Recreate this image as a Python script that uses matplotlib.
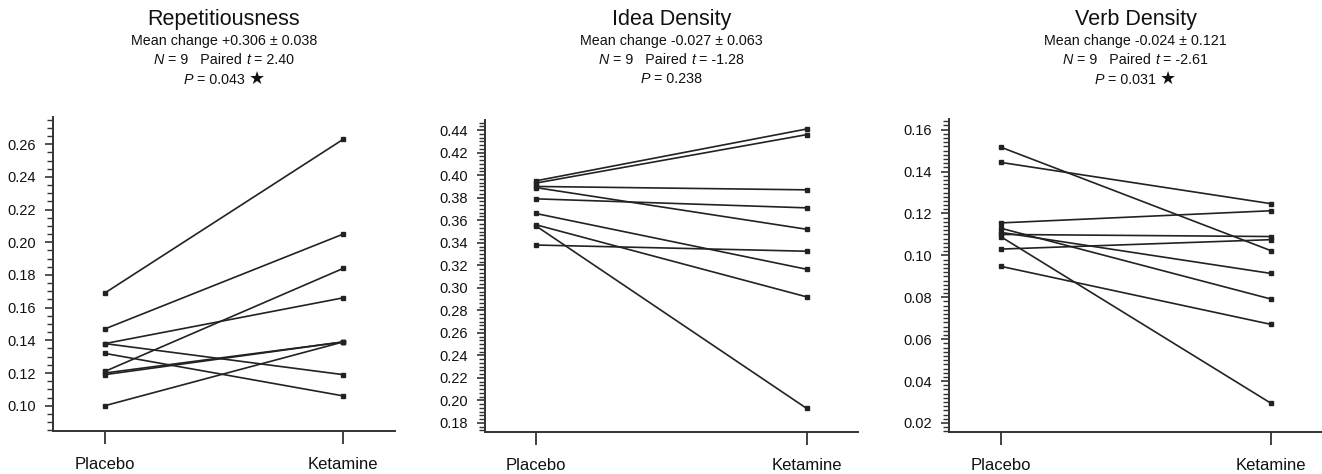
import matplotlib
matplotlib.use("Agg")
import matplotlib.pyplot as plt
from matplotlib.ticker import MultipleLocator
from matplotlib.offsetbox import TextArea, HPacker, AnnotationBbox

# ---- data ----
conditions = ["Placebo", "Ketamine"]

rep_placebo = [0.169, 0.147, 0.138, 0.138, 0.132, 0.121, 0.120, 0.119, 0.100]
rep_ketamine = [0.263, 0.205, 0.166, 0.119, 0.106, 0.184, 0.139, 0.139, 0.139]

idea_placebo = [0.395, 0.393, 0.390, 0.389, 0.379, 0.366, 0.356, 0.355, 0.338]
idea_ketamine = [0.441, 0.436, 0.387, 0.352, 0.371, 0.3165, 0.292, 0.193, 0.3325]

verb_placebo = [0.1517, 0.1444, 0.1155, 0.1030, 0.0948, 0.110, 0.113, 0.111, 0.109]
verb_ketamine = [0.1023, 0.1247, 0.1213, 0.1075, 0.0671, 0.109, 0.0792, 0.0914, 0.0295]

titles = ["Repetitiousness", "Idea Density", "Verb Density"]
mean_change = ["+0.306 \u00b1 0.038", "-0.027 \u00b1 0.063", "-0.024 \u00b1 0.121"]
n_vals = ["9", "9", "9"]
t_vals = ["2.40", "-1.28", "-2.61"]
p_vals = ["0.043", "0.238", "0.031"]
significant = [True, False, True]

# ---- style ----
plt.rcParams['font.family'] = ['Liberation Sans', 'DejaVu Sans']
TXT = "#111111"
LINE = "#222222"

W, H = 1322, 474
fig = plt.figure(figsize=(W / 100, H / 100), dpi=100)

# pixel boxes: left, right, top, bottom
boxes = [(53, 395, 117, 431), (485, 858, 120, 432), (949, 1322, 119, 432)]
ylims = [(0.0845, 0.2767), (0.172, 0.449), (0.0157, 0.1651)]
xlims = [(-0.218, 1.218), (-0.188, 1.19), (-0.191, 1.19)]
majors = [0.02, 0.02, 0.02]
minors = [0.005, 0.02 / 6, 0.002]
ymin_ticks = [0.10, 0.18, 0.02]

data = [(rep_placebo, rep_ketamine), (idea_placebo, idea_ketamine),
        (verb_placebo, verb_ketamine)]

for i, ((l, r, t, b), (pl, ke)) in enumerate(zip(boxes, data)):
    ax = fig.add_axes([l / W, 1 - b / H, (r - l) / W, (b - t) / H])
    for a, k in zip(pl, ke):
        ax.plot([0, 1], [a, k], color=LINE, lw=1.2, marker='s', ms=3.2,
                mfc=LINE, mec=LINE, solid_capstyle='round')
    ax.set_xlim(*xlims[i])
    ax.set_ylim(*ylims[i])
    ax.set_xticks([0, 1])
    ax.set_xticklabels(conditions, fontsize=12, color=TXT)
    ax.yaxis.set_major_locator(MultipleLocator(majors[i]))
    ax.yaxis.set_minor_locator(MultipleLocator(minors[i]))
    ax.yaxis.set_major_formatter(matplotlib.ticker.FormatStrFormatter('%.2f'))
    for s in ['top', 'right']:
        ax.spines[s].set_visible(False)
    for s in ['left', 'bottom']:
        ax.spines[s].set_linewidth(1.4)
        ax.spines[s].set_color("#333333")
    ax.tick_params(axis='y', which='major', direction='out', length=6, width=1.2,
                   labelsize=10.5, pad=6, colors="#333333", labelcolor=TXT)
    ax.tick_params(axis='y', which='minor', direction='out', length=4, width=1.0,
                   colors="#333333")
    ax.tick_params(axis='x', which='major', direction='out', length=9, width=1.3,
                   pad=10, colors="#333333", labelcolor=TXT)
    lo = ymin_ticks[i]
    ax.set_yticks([v for v in ax.get_yticks() if v >= lo - 1e-9 and v <= ylims[i][1]])

    cx = (l + r) / 2 / W
    fig.text(cx, 1 - 19.5 / H, titles[i], ha='center', va='center',
             fontsize=15.5, color=TXT)

    def packed(pieces, y):
        areas = []
        for txt, style in pieces:
            props = dict(fontsize=10.3, color=TXT)
            if style == 'it':
                props['style'] = 'italic'
            elif style == 'star':
                props['family'] = ['DejaVu Sans']
                props['fontsize'] = 13
                props['fontweight'] = 'bold'
            areas.append(TextArea(txt, textprops=props))
        box = HPacker(children=areas, align='baseline', pad=0, sep=0)
        ab = AnnotationBbox(box, (cx, 1 - y / H), xycoords='figure fraction',
                            frameon=False, box_alignment=(0.5, 0.5), pad=0)
        fig.add_artist(ab)

    packed([("Mean change " + mean_change[i], 'rm')], 40.7)
    packed([("N", 'it'), (" = " + n_vals[i] + "   Paired ", 'rm'), ("t", 'it'),
            (" = " + t_vals[i], 'rm')], 60)
    p_pieces = [("P", 'it'), (" = " + p_vals[i], 'rm')]
    if significant[i]:
        p_pieces.append((" ", 'rm'))
        p_pieces.append(("\u2605", 'star'))
    packed(p_pieces, 79)

fig.savefig("out.png", dpi=100)
